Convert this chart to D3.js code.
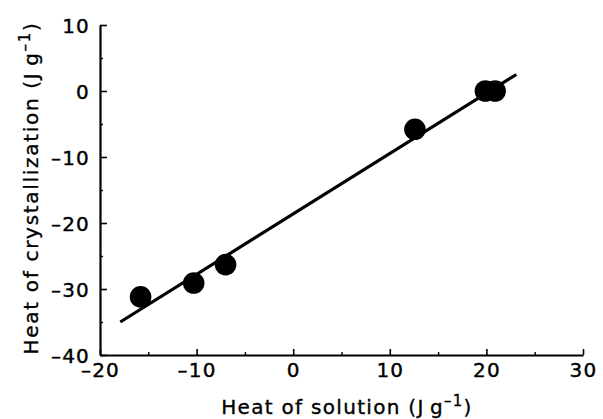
<!DOCTYPE html>
<html>
<head>
<meta charset="utf-8">
<script src="https://cdn.jsdelivr.net/npm/d3@7/dist/d3.min.js"></script>
<style>
  html, body { margin: 0; padding: 0; background: #fff; }
  svg { display: block; }
  text { font-family: "DejaVu Sans", "Liberation Sans", Arial, sans-serif; fill: #000; }
</style>
</head>
<body>
<svg id="chart" width="603" height="419"></svg>
<script>
// Heat of solution vs heat of crystallization (J g^-1)
const heatOfSolution = [-15.8, -10.3, -7.0, 12.6, 19.9, 20.9];
const heatOfCrystallization = [-31.2, -29.1, -26.3, -5.8, 0.0, 0.0];

// Regression line end points
const fitX = [-17.9, 23.1];
const fitY = [-35.0, 2.5];

const xMajorTicks = [-20, -10, 0, 10, 20, 30];
const xMinorTicks = [-15, -5, 5, 15, 25];
const yMajorTicks = [-40, -30, -20, -10, 0, 10];
const yMinorTicks = [-35, -25, -15, -5, 5];

const FONT = "DejaVu Sans, Liberation Sans, Arial, sans-serif";
const svg = d3.select("#chart");

const x = d3.scaleLinear().domain([-20, 30]).range([100, 583]);
const y = d3.scaleLinear().domain([-40, 10]).range([355, 25]);

const fmt = d => (d < 0 ? "\u2013" + Math.abs(d) : String(d));

// x axis: major ticks pointing inward
const gx = svg.append("g").attr("transform", `translate(0,${y(-40)})`)
  .call(d3.axisBottom(x).tickValues(xMajorTicks).tickFormat(fmt)
    .tickSizeInner(-6).tickSizeOuter(0).tickPadding(8));
gx.select(".domain").attr("stroke-width", 2.2);
gx.selectAll(".tick line").attr("stroke-width", 1.6);
gx.selectAll(".tick text").attr("dy", "0.72em");
svg.append("g").attr("transform", `translate(0,${y(-40)})`)
  .call(d3.axisBottom(x).tickValues(xMinorTicks).tickFormat("")
    .tickSizeInner(-3).tickSizeOuter(0))
  .call(g => g.select(".domain").remove())
  .selectAll(".tick line").attr("stroke-width", 1.4);

// y axis: major ticks pointing inward
const gy = svg.append("g").attr("transform", `translate(${x(-20)},0)`)
  .call(d3.axisLeft(y).tickValues(yMajorTicks).tickFormat(fmt)
    .tickSizeInner(-7).tickSizeOuter(0).tickPadding(10));
gy.select(".domain").attr("stroke-width", 2.2);
gy.selectAll(".tick line").attr("stroke-width", 1.6);
gy.selectAll(".tick text").attr("dy", "0.36em");
svg.append("g").attr("transform", `translate(${x(-20)},0)`)
  .call(d3.axisLeft(y).tickValues(yMinorTicks).tickFormat("")
    .tickSizeInner(-3).tickSizeOuter(0))
  .call(g => g.select(".domain").remove())
  .selectAll(".tick line").attr("stroke-width", 1.4);

svg.selectAll(".domain, .tick line").attr("stroke", "#000");
svg.selectAll(".tick text")
  .attr("fill", "#000")
  .attr("stroke", "#000")
  .attr("stroke-width", 0.4)
  .attr("font-family", FONT)
  .attr("font-size", 20)
  .attr("letter-spacing", 1.2);

// regression line
const fitPts = fitX.map((v, i) => [v, fitY[i]]);
svg.append("path")
  .datum(fitPts)
  .attr("fill", "none")
  .attr("stroke", "#000")
  .attr("stroke-width", 3.2)
  .attr("d", d3.line().x(d => x(d[0])).y(d => y(d[1])));

// data points
svg.append("g").selectAll("circle")
  .data(heatOfSolution.map((v, i) => [v, heatOfCrystallization[i]]))
  .join("circle")
  .attr("cx", d => x(d[0]))
  .attr("cy", d => y(d[1]))
  .attr("r", 10.8)
  .attr("fill", "#000");

// axis titles with superscript exponent
function axisTitle(sel, label, spacing) {
  sel.attr("text-anchor", "middle")
    .attr("font-family", FONT)
    .attr("font-size", 20)
    .attr("stroke", "#000")
    .attr("stroke-width", 0.35)
    .attr("letter-spacing", spacing);
  sel.append("tspan").text(label + " (J\u2009g");
  sel.append("tspan").attr("dy", -8).attr("font-size", 15).text("\u2013" + "1");
  sel.append("tspan").attr("dy", 8).text(")");
}

axisTitle(svg.append("text").attr("x", 347).attr("y", 414), "Heat of solution", 1.3);
axisTitle(svg.append("text").attr("transform", "translate(38,188) rotate(-90)"),
  "Heat of crystallization", 1.7);
</script>
</body>
</html>
